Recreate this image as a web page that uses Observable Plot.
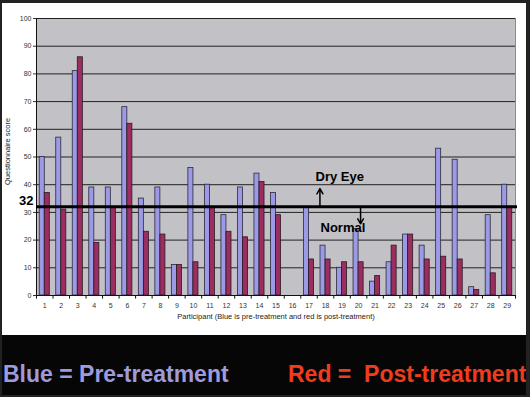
<!DOCTYPE html>
<html>
<head>
<meta charset="utf-8">
<script src="https://cdn.jsdelivr.net/npm/d3@7"></script>
<script src="https://cdn.jsdelivr.net/npm/@observablehq/plot@0.6"></script>
<style>
  html, body { margin: 0; padding: 0; }
  body { width: 530px; height: 397px; background: #222; position: relative; overflow: hidden;
         font-family: "Liberation Sans", Arial, sans-serif; }
  #panel { position: absolute; left: 2px; top: 3px; width: 524px; height: 332px; background: #fff; }
  #legend { position: absolute; left: 2px; top: 335px; width: 524px; height: 60px; background: #060606; }
</style>
</head>
<body>
<div id="panel"></div>
<div id="legend">
  <svg width="524" height="60" style="display:block">
    <text x="1" y="47" font-family="Liberation Sans, Arial, sans-serif" font-weight="bold" font-size="23" fill="#9d9bdc">Blue = Pre-treatment</text>
    <text x="286" y="47" font-family="Liberation Sans, Arial, sans-serif" font-weight="bold" font-size="23" fill="#f03c1e" xml:space="preserve">Red =  Post-treatment</text>
  </svg>
</div>
<script>
const participants = d3.range(1, 30);
const preTreatment  = [50, 57, 81, 39, 39, 68, 35, 39, 11, 46, 40, 29, 39, 44, 37, null, 32, 18, 10, 24, 5, 12, 22, 18, 53, 49, 3, 29, 40];
const postTreatment = [37, 31, 86, 19, 32, 62, 23, 22, 11, 12, 32, 23, 21, 41, 29, null, 13, 13, 12, 12, 7, 18, 22, 13, 14, 13, 2, 8, 32];
const yTicks = [0, 10, 20, 30, 40, 50, 60, 70, 80, 90, 100];
const threshold = 32;

const half = 0.305;
const pre = participants.map((p, i) => ({p, v: preTreatment[i]})).filter(d => d.v != null);
const post = participants.map((p, i) => ({p, v: postTreatment[i]})).filter(d => d.v != null);
const boundaries = d3.range(0, 30).map(d => d + 0.5);
const font = "Liberation Sans, Arial, sans-serif";

const chart = Plot.plot({
  width: 524,
  height: 332,
  marginLeft: 34,
  marginRight: 11,
  marginTop: 15,
  marginBottom: 40,
  style: {fontFamily: font, fontSize: "7px", color: "#333", background: "#fff", overflow: "visible"},
  x: {type: "linear", domain: [0.5, 29.5], ticks: participants, tickSize: 0, tickPadding: 8, tickFormat: d => d, label: null},
  y: {domain: [0, 100], ticks: yTicks, tickSize: 3, tickPadding: 2, label: null},
  marks: [
    Plot.frame({fill: "#c2c1c5", stroke: "#8a8a8a"}),
    Plot.ruleY(yTicks.filter(d => d > 0), {stroke: "#222", strokeWidth: 1}),
    Plot.rectY(pre, {x1: d => d.p - half, x2: d => d.p, y1: 0, y2: "v", fill: "#9c9ae6", stroke: "#2a2a3a", strokeWidth: 0.8}),
    Plot.rectY(post, {x1: d => d.p, x2: d => d.p + half, y1: 0, y2: "v", fill: "#9b2d60", stroke: "#2a1a22", strokeWidth: 0.8}),
    Plot.ruleX([0.5], {y1: 0, y2: 100, stroke: "#111", strokeWidth: 1}),
    Plot.ruleY([0], {stroke: "#111", strokeWidth: 1}),
    Plot.ruleX(boundaries, {y1: 0, y2: -1.3, stroke: "#111", strokeWidth: 1}),
    Plot.ruleY([threshold], {stroke: "#000", strokeWidth: 3, insetRight: -2}),
    Plot.text([String(threshold)], {y: () => threshold, frameAnchor: "left", dx: -3, dy: -6, textAnchor: "end", fontSize: 13, fontWeight: "bold", fill: "#000"}),
    Plot.text(["Dry Eye"], {x: () => 17, y: () => threshold, dx: 6.5, dy: -30, textAnchor: "start", fontSize: 13, fontWeight: "bold", fill: "#000"}),
    Plot.text(["Normal"], {x: () => 17, y: () => threshold, dx: 11.5, dy: 21, textAnchor: "start", fontSize: 13, fontWeight: "bold", fill: "#000"}),
    Plot.arrow([0], {x1: () => 17.66, x2: () => 17.66, y1: () => threshold, y2: () => 38.6, stroke: "#000", strokeWidth: 1.5, headLength: 6}),
    Plot.arrow([0], {x1: () => 20.12, x2: () => 20.12, y1: () => threshold, y2: () => 25.9, stroke: "#000", strokeWidth: 1.5, headLength: 6}),
    Plot.text(["Questionnaire score"], {x: () => -1.23, y: () => 52, rotate: -90, fontSize: 7.5, fill: "#222"}),
    Plot.text(["Participant (Blue is pre-treatment and red is post-treatment)"], {frameAnchor: "bottom", dy: 23, fontSize: 7.5, fill: "#222"})
  ]
});
document.getElementById("panel").appendChild(chart);
</script>
</body>
</html>
